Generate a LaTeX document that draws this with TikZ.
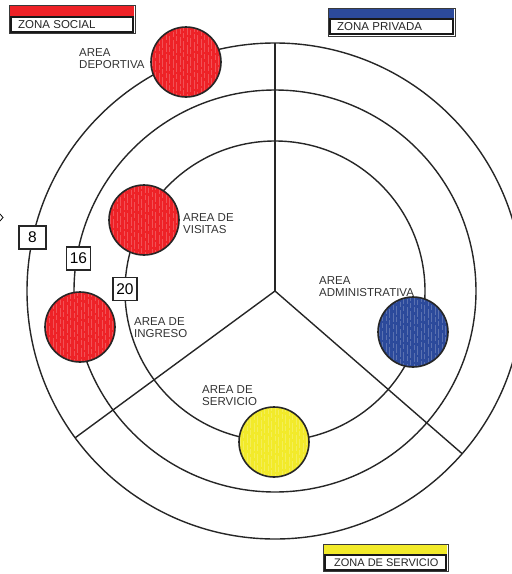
\documentclass[tikz,border=0pt]{standalone}
\usepackage{fontspec}
\setmainfont{Liberation Sans}
\usetikzlibrary{calc}
\definecolor{zred}{HTML}{EE2227}
\definecolor{zblue}{HTML}{2C4A9B}
\definecolor{zyellow}{HTML}{F2EA2A}
\definecolor{zframe}{HTML}{3A3A3A}
\newcommand\streakfill[2]{%
  \begin{scope}
    \clip (#1,#2) circle[radius=34];
    \foreach \i [count=\k] in {-34,-30.5,...,34} {
      \pgfmathsetmacro\ph{mod(\k*7,11)}
      \draw[white, opacity=.22, line width=.7pt, dash pattern=on 9pt off 2pt on 5pt off 3pt, dash phase=\ph pt]
        (#1+\i,#2-36) -- ++(0,72);
    }
  \end{scope}}
\begin{document}
\begin{tikzpicture}[x=1pt,y=-1pt,
  ring/.style={line width=1.4pt, draw=black!85},
  spoke/.style={line width=1.4pt, draw=black!85},
  area/.style={circle, minimum size=70pt, inner sep=0pt, line width=1.6pt, draw=black!85},
  num/.style={draw=black!85, fill=white, line width=1.1pt, minimum height=23pt, inner sep=0pt, font=\fontsize{15.5}{15.5}\selectfont},
  lbl/.style={align=left, anchor=north west, inner sep=0pt, font=\fontsize{11.5}{12}\selectfont, text=black!80},
  legframe/.style={draw=zframe, line width=.9pt},
  legbox/.style={draw=black!90, fill=white, line width=1.2pt},
  legtext/.style={anchor=west, inner sep=0pt, font=\fontsize{11.5}{12}\selectfont, text=black!85}
  ]
\useasboundingbox (0,0) rectangle (512,574);
\coordinate (C) at (275,291);
% rings
\draw[ring] (C) circle[radius=248];
\draw[ring] (C) circle[radius=201];
\draw[ring] (C) circle[radius=150];
% spokes
\coordinate (Ptop) at ($(C)+(-90:248)$);
\coordinate (Pleft) at ($(C)+(143.7:248)$);
\coordinate (Pright) at ($(C)+(41:248)$);
\draw[spoke] (C) -- (Ptop);
\draw[spoke] (C) -- (Pleft);
\draw[spoke] (C) -- (Pright);
% small mark at the left edge
\coordinate (m1) at (0,214);
\coordinate (m2) at (3,217.5);
\coordinate (m3) at (0,221);
\draw[line width=.8pt] (m1) -- (m2) -- (m3);
% areas
\node[area, fill=zred] (dep) at (186,62) {};
\streakfill{186}{62}
\node[area, fill=zred] (vis) at (144,220) {};
\streakfill{144}{220}
\node[area, fill=zred] (ing) at (80,327) {};
\streakfill{80}{327}
\node[area, fill=zblue] (adm) at (413,332) {};
\streakfill{413}{332}
\node[area, fill=zyellow] (ser) at (274,442) {};
\streakfill{274}{442}
% distance boxes
\node[num, minimum width=27pt] (n8) at (32.5,237.5) {8};
\node[num, minimum width=24pt] (n16) at (78.5,258.5) {16};
\node[num, minimum width=24pt] (n20) at (125,289) {20};
% labels
\node[lbl] (ldep) at (79,48) {AREA\\DEPORTIVA};
\node[lbl] (lvis) at (183,213) {AREA DE\\VISITAS};
\node[lbl] (ling) at (134,317) {AREA DE\\INGRESO};
\node[lbl] (ladm) at (319,276) {AREA\\ADMINISTRATIVA};
\node[lbl] (lser) at (202,385) {AREA DE\\SERVICIO};
% legend: zona social
\draw[legframe] (9,5) rectangle (135,33);
\fill[zred] (10,6) rectangle (134,16);
\draw[legbox] (11,17) rectangle (133,32);
\node[legtext] (tsoc) at (18,24.5) {ZONA SOCIAL};
% legend: zona privada
\draw[legframe] (328,8) rectangle (455,36);
\fill[zblue] (329,9) rectangle (454,18);
\draw[legbox] (330,19) rectangle (453,34);
\node[legtext] (tpri) at (337,26.5) {ZONA PRIVADA};
% legend: zona de servicio
\draw[legframe] (323,544) rectangle (448,571);
\fill[zyellow] (324,545) rectangle (447,554);
\draw[legbox] (325,555) rectangle (446,570);
\node[legtext, font=\fontsize{11}{12}\selectfont] (tser) at (334,562.5) {ZONA DE SERVICIO};
\end{tikzpicture}
\end{document}
